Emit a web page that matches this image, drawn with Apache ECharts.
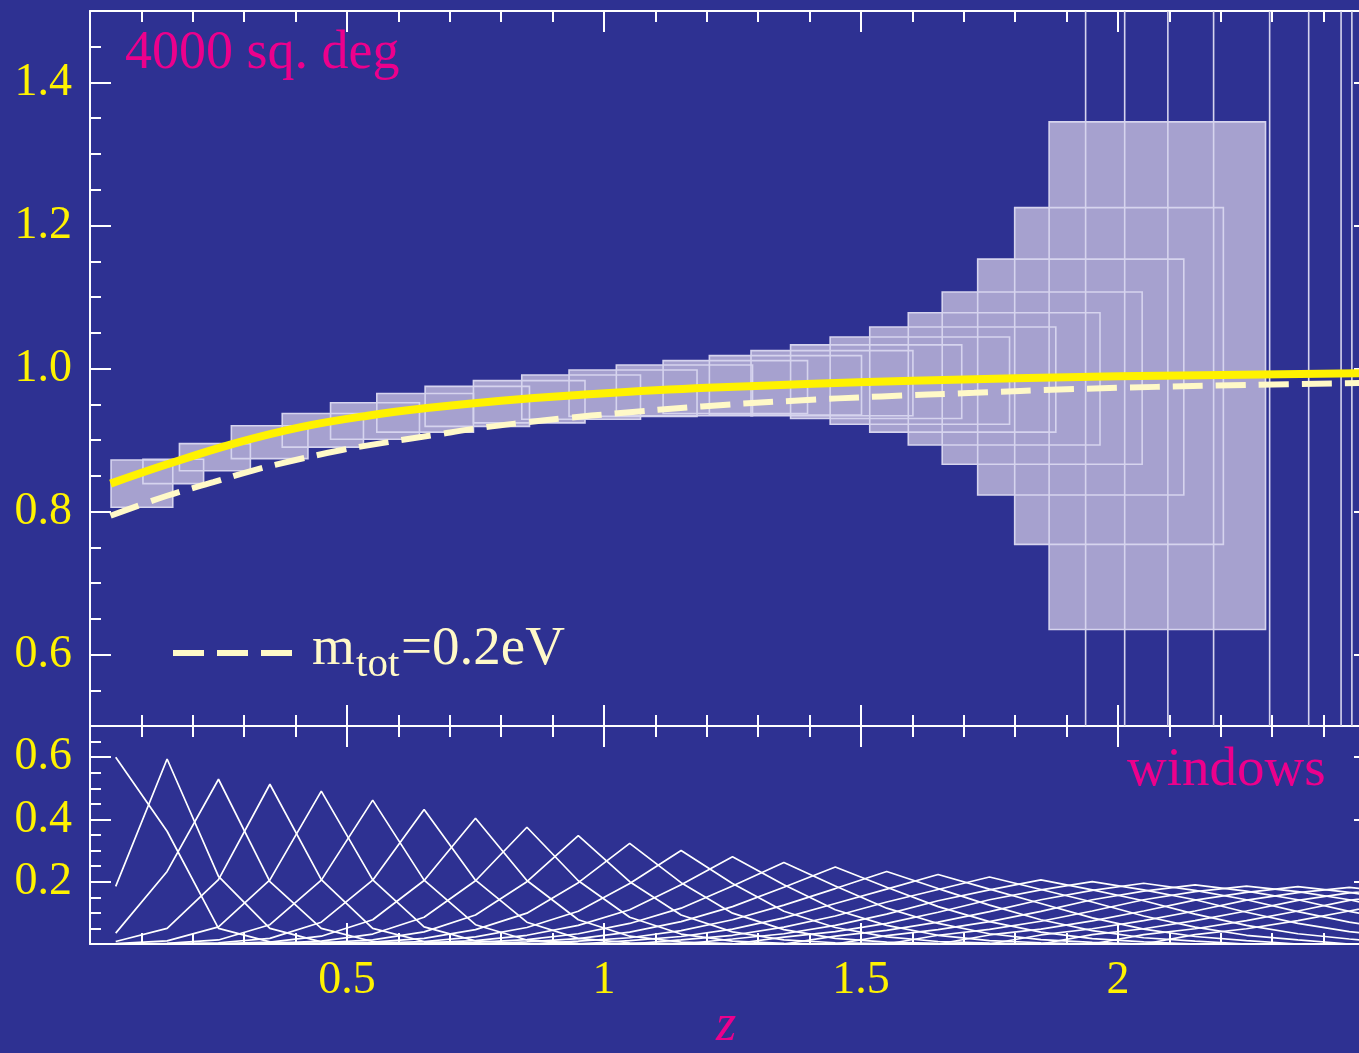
<!DOCTYPE html>
<html>
<head>
<meta charset="utf-8">
<script src="https://cdn.jsdelivr.net/npm/echarts@6/dist/echarts.min.js"></script>
<style>
  html, body { margin: 0; padding: 0; background: #2E3192; }
  #chart { width: 1359px; height: 1053px; }
</style>
</head>
<body>
<div id="chart"></div>
<script>
// ---- growth ratio curves (upper panel) ----
const fidZ   = [0.04, 0.15, 0.28, 0.41, 0.54, 0.66, 0.80, 0.95, 1.20, 1.60, 2.00, 2.50];
const fidVal = [0.839, 0.866, 0.895, 0.918, 0.934, 0.945, 0.955, 0.963, 0.973, 0.983, 0.989, 0.9935];

const nuZ   = [0.04, 0.15, 0.24, 0.32, 0.40, 0.49, 0.58, 0.67, 0.75, 0.84, 0.93, 1.02, 1.19, 1.37, 1.54, 1.72, 1.90, 2.25, 2.50];
const nuVal = [0.794, 0.822, 0.841, 0.858, 0.872, 0.886, 0.897, 0.907, 0.916, 0.924, 0.931, 0.937, 0.947, 0.955, 0.961, 0.966, 0.971, 0.977, 0.980];

// ---- error boxes per redshift bin (z range and value range) ----
const boxZLo = [0.041, 0.103, 0.174, 0.275, 0.374, 0.468, 0.558, 0.652, 0.746, 0.840, 0.932, 1.024, 1.115, 1.205,
                1.286, 1.363, 1.440, 1.517, 1.592, 1.658, 1.727, 1.799, 1.866, 1.937, 2.013, 2.097, 2.186, 2.295];
const boxZHi = [0.161, 0.221, 0.312, 0.424, 0.532, 0.641, 0.746, 0.855, 0.963, 1.071, 1.181, 1.289, 1.396, 1.501,
                1.601, 1.696, 1.789, 1.879, 1.965, 2.047, 2.128, 2.205, 2.287, 2.371, 2.434, 2.455, 2.56, 2.62];
const boxLo  = [0.806, 0.839, 0.857, 0.874, 0.890, 0.901, 0.911, 0.919, 0.924, 0.929, 0.933, 0.934, 0.937, 0.935,
                0.934, 0.930, 0.922, 0.911, 0.893, 0.866, 0.823, 0.754, 0.635, 0.30, 0.10, -0.10, -0.40, -0.80];
const boxHi  = [0.872, 0.873, 0.895, 0.920, 0.937, 0.952, 0.965, 0.975, 0.983, 0.991, 0.998, 1.005, 1.011, 1.018,
                1.025, 1.033, 1.044, 1.058, 1.078, 1.107, 1.153, 1.225, 1.345, 1.68, 1.88, 2.10, 2.40, 2.80];

// ---- redshift windows (lower panel) ----
const gridZ = [0.05, 0.15, 0.25, 0.35, 0.45, 0.55, 0.65, 0.75, 0.85, 0.95, 1.05, 1.15, 1.25, 1.35,
               1.45, 1.55, 1.65, 1.75, 1.85, 1.95, 2.05, 2.15, 2.25, 2.35, 2.45, 2.55, 2.65, 2.75,
               2.85, 2.95, 3.05, 3.15];
// first three windows, listed point by point from z = 0.05
const lowWindows = [
  [0.600, 0.362, 0.050, 0.007, 0.000],
  [0.185, 0.594, 0.217, 0.050, 0.007, 0.000],
  [0.035, 0.233, 0.529, 0.200, 0.050, 0.008, 0.000]
];
// remaining windows: peak and values 1..6 bins away from the peak
const winPeak  = [0.513, 0.491, 0.462, 0.432, 0.404, 0.375, 0.348, 0.323, 0.300, 0.280, 0.262, 0.247, 0.233,
                  0.223, 0.215, 0.206, 0.200, 0.195, 0.190, 0.186, 0.184, 0.182, 0.180, 0.178, 0.176];
const winSide1 = [0.207, 0.206, 0.205, 0.205, 0.204, 0.203, 0.200, 0.197, 0.194, 0.190, 0.186, 0.182, 0.178,
                  0.176, 0.175, 0.174, 0.174, 0.172, 0.170, 0.168, 0.166, 0.165, 0.164, 0.163, 0.162];
const winSide2 = [0.050, 0.055, 0.062, 0.070, 0.078, 0.086, 0.093, 0.099, 0.105, 0.110, 0.115, 0.120, 0.125,
                  0.130, 0.135, 0.139, 0.142, 0.142, 0.142, 0.142, 0.141, 0.141, 0.140, 0.140, 0.139];
const winSide3 = [0.008, 0.010, 0.013, 0.018, 0.025, 0.032, 0.039, 0.046, 0.053, 0.060, 0.066, 0.072, 0.078,
                  0.084, 0.090, 0.096, 0.102, 0.104, 0.105, 0.106, 0.106, 0.106, 0.106, 0.106, 0.106];
const winSide4 = [0.000, 0.001, 0.002, 0.004, 0.006, 0.009, 0.013, 0.018, 0.023, 0.028, 0.033, 0.038, 0.043,
                  0.048, 0.054, 0.060, 0.066, 0.070, 0.072, 0.073, 0.074, 0.075, 0.075, 0.075, 0.075];
const winSide5 = [0.000, 0.000, 0.000, 0.001, 0.001, 0.002, 0.004, 0.006, 0.008, 0.011, 0.014, 0.017, 0.020,
                  0.024, 0.028, 0.033, 0.040, 0.044, 0.046, 0.047, 0.048, 0.049, 0.049, 0.049, 0.049];
const winSide6 = [0.000, 0.000, 0.000, 0.000, 0.000, 0.000, 0.001, 0.002, 0.003, 0.004, 0.005, 0.007, 0.009,
                  0.011, 0.013, 0.016, 0.022, 0.025, 0.027, 0.028, 0.029, 0.029, 0.030, 0.030, 0.030];

// ---- axis ticks ----
const zTicks       = [0.5, 1, 1.5, 2];
const upperTicks   = [0.6, 0.8, 1.0, 1.2, 1.4];
const lowerTicks   = [0.2, 0.4, 0.6];

// ---- colours ----
const BG       = '#2E3192';
const WHITE    = '#FFFFFF';
const YELLOW   = '#FFF200';
const CREAM    = '#FFF9C8';
const MAGENTA  = '#EC008C';
const BOX_FILL = '#A6A1CF';
const BOX_EDGE = '#D6D4EE';
const SERIF    = '"Liberation Serif", "DejaVu Serif", serif';

const Z_MIN = 0, Z_MAX = 2.5;
const F_MIN = 0.5, F_MAX = 1.5;
const W_MIN = 0, W_MAX = 0.7;

// window curves built from the tables above
function windowCurves() {
  const curves = lowWindows.map(vals => vals.map((v, j) => [gridZ[j], v]));
  winPeak.forEach((peak, k) => {
    const centre = k + lowWindows.length;
    const sides = [peak, winSide1[k], winSide2[k], winSide3[k], winSide4[k], winSide5[k], winSide6[k]];
    const pts = [];
    gridZ.forEach((z, j) => {
      const d = Math.abs(j - centre);
      pts.push([z, d < sides.length ? sides[d] : 0]);
    });
    curves.push(pts);
  });
  return curves;
}

const boxData = boxZLo.map((lo, i) => [lo, boxZHi[i], boxLo[i], boxHi[i]]);

function boxInside(api) {
  return api.value(2) >= F_MIN && api.value(3) <= F_MAX;
}

function boxFill(params, api) {
  if (!boxInside(api)) return null;
  const a = api.coord([api.value(0), api.value(3)]);
  const b = api.coord([api.value(1), api.value(2)]);
  return { type: 'rect', shape: { x: a[0], y: a[1], width: b[0] - a[0], height: b[1] - a[1] },
           style: { fill: BOX_FILL } };
}

function boxEdge(params, api) {
  const a = api.coord([api.value(0), api.value(3)]);
  const b = api.coord([api.value(1), api.value(2)]);
  const cs = params.coordSys;
  if (boxInside(api)) {
    return { type: 'rect', shape: { x: a[0], y: a[1], width: b[0] - a[0], height: b[1] - a[1] },
             style: { fill: 'none', stroke: BOX_EDGE, lineWidth: 1.6 } };
  }
  // boxes taller than the panel: only their sides show
  const children = [];
  [a[0], b[0]].forEach(x => {
    if (x >= cs.x && x <= cs.x + cs.width) {
      children.push({ type: 'line', shape: { x1: x, y1: cs.y, x2: x, y2: cs.y + cs.height },
                      style: { stroke: BOX_EDGE, lineWidth: 1.6 } });
    }
  });
  return { type: 'group', children };
}

const axisLine = { show: true, onZero: false, lineStyle: { color: WHITE, width: 2 } };
const majorTick = { show: true, inside: true, length: 21, lineStyle: { color: WHITE, width: 2 } };
const minorTick = { show: true, splitNumber: 5, length: 11, lineStyle: { color: WHITE, width: 2 } };
const labelFont = { color: YELLOW, fontFamily: SERIF, fontSize: 46 };

function zAxis(gridIndex, position, withLabels) {
  return {
    type: 'value', gridIndex, position, min: Z_MIN, max: Z_MAX, interval: 0.5,
    axisLine, axisTick: majorTick, minorTick, splitLine: { show: false }, minorSplitLine: { show: false },
    axisLabel: withLabels
      ? Object.assign({ show: true, margin: 14, customValues: zTicks,
                        formatter: v => String(v) }, labelFont)
      : { show: false }
  };
}

function valueAxes(gridIndex, min, max, ticks, digits) {
  return [
    // fine ticks every 0.05
    { type: 'value', gridIndex, position: 'left', min, max, interval: 0.05,
      axisLine, axisTick: { show: true, inside: true, length: 11, lineStyle: { color: WHITE, width: 2 } },
      axisLabel: { show: false }, splitLine: { show: false } },
    // labelled ticks
    { type: 'value', gridIndex, position: 'left', min, max,
      axisLine: { show: false },
      axisTick: Object.assign({ customValues: ticks }, majorTick),
      axisLabel: Object.assign({ show: true, margin: 18, customValues: ticks,
                                 formatter: v => v.toFixed(digits) }, labelFont),
      splitLine: { show: false } },
    // right side frame
    { type: 'value', gridIndex, position: 'right', min, max,
      axisLine, axisTick: Object.assign({ customValues: ticks }, majorTick),
      axisLabel: { show: false }, splitLine: { show: false } }
  ];
}

const windowSeries = windowCurves().map(pts => ({
  type: 'line', xAxisIndex: 2, yAxisIndex: 3, data: pts, showSymbol: false, silent: true,
  lineStyle: { color: WHITE, width: 1.7 }, z: 4, animation: false
}));

const chart = echarts.init(document.getElementById('chart'), null, { renderer: 'canvas' });

// the frame runs to z = 2.5, a little past the right edge of the canvas
const panelBase = { left: 90, width: 1285, outerBoundsMode: 'none', containLabel: false };

chart.setOption({
  backgroundColor: BG,
  animation: false,
  grid: [
    Object.assign({ top: 11, height: 715 }, panelBase),
    Object.assign({ top: 726, height: 218 }, panelBase)
  ],
  xAxis: [
    zAxis(0, 'bottom', false),
    zAxis(0, 'top', false),
    zAxis(1, 'bottom', true),
    zAxis(1, 'top', false)
  ],
  yAxis: [
    ...valueAxes(0, F_MIN, F_MAX, upperTicks, 1),
    ...valueAxes(1, W_MIN, W_MAX, lowerTicks, 1)
  ],
  series: [
    { type: 'custom', xAxisIndex: 0, yAxisIndex: 0, data: boxData, renderItem: boxFill,
      encode: { x: [0, 1], y: [2, 3] }, clip: true, z: 1, silent: true },
    { type: 'custom', xAxisIndex: 0, yAxisIndex: 0, data: boxData, renderItem: boxEdge,
      encode: { x: [0, 1], y: [2, 3] }, clip: true, z: 2, silent: true },
    { type: 'line', xAxisIndex: 0, yAxisIndex: 0, data: fidZ.map((z, i) => [z, fidVal[i]]),
      smooth: 0.4, showSymbol: false, silent: true, z: 5,
      lineStyle: { color: YELLOW, width: 8, cap: 'butt' } },
    { type: 'line', xAxisIndex: 0, yAxisIndex: 0, data: nuZ.map((z, i) => [z, nuVal[i]]),
      smooth: 0.4, showSymbol: false, silent: true, z: 5,
      lineStyle: { color: CREAM, width: 6, type: [30, 13], cap: 'butt' } },
    ...windowSeries
  ],
  graphic: [
    { type: 'text', left: 125, top: 27, z: 10, silent: true,
      style: { text: '4000 sq. deg', fill: MAGENTA, font: '54px ' + SERIF } },
    { type: 'text', left: 1127, top: 743, z: 10, silent: true,
      style: { text: 'windows', fill: MAGENTA, font: '55px ' + SERIF } },
    { type: 'line', z: 10, silent: true,
      shape: { x1: 173, y1: 653, x2: 292, y2: 653 },
      style: { stroke: CREAM, lineWidth: 6, lineDash: [31, 13] } },
    { type: 'text', left: 312, top: 622, z: 10, silent: true,
      style: { text: 'm', fill: CREAM, font: '55px ' + SERIF } },
    { type: 'text', left: 356, top: 645, z: 10, silent: true,
      style: { text: 'tot', fill: CREAM, font: '41px ' + SERIF } },
    { type: 'text', left: 401, top: 622, z: 10, silent: true,
      style: { text: '=0.2eV', fill: CREAM, font: '55px ' + SERIF } },
    { type: 'text', left: 716, top: 1000, z: 10, silent: true,
      style: { text: 'z', fill: MAGENTA, font: 'italic 52px ' + SERIF } }
  ]
});
</script>
</body>
</html>
